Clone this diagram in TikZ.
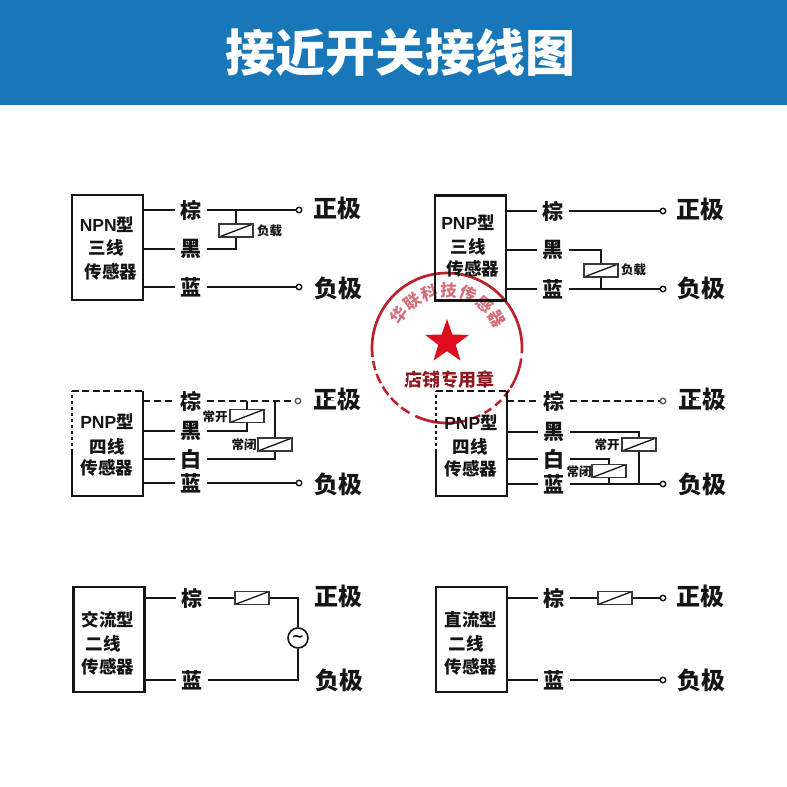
\documentclass[tikz,border=0pt]{standalone}
\usepackage{fontspec}
\setmainfont{Noto Sans CJK SC}
\newfontfamily\latinbf[Scale=1.0]{Liberation Sans}
\newfontfamily\symbolfont{DejaVu Sans}
\usetikzlibrary{shapes.geometric}
\definecolor{bandblue}{HTML}{1877B8}
\definecolor{ink}{HTML}{151515}
\definecolor{stampred}{HTML}{BE2029}
\definecolor{stamppink}{HTML}{D4707A}
\definecolor{starred}{HTML}{DE0F1C}
\tikzset{
  wire/.style={draw=ink,line width=1.5pt},
  dashwire/.style={draw=ink,line width=1.5pt,dash pattern=on 7pt off 4pt},
  sensorbox/.style={rectangle,draw=ink,line width=2.2pt,minimum width=71pt,minimum height=105pt,inner sep=0pt},
  openbox/.style={rectangle,minimum width=71pt,minimum height=104pt,inner sep=0pt},
  boxedge/.style={draw=ink,line width=2.2pt},
  boxedgedash/.style={draw=ink,line width=2pt,dash pattern=on 7pt off 3.5pt},
  boxtext/.style={font=\fontsize{17.5}{18}\selectfont\bfseries,text=ink,inner sep=0pt},
  wirelabel/.style={font=\fontsize{21}{22}\selectfont\bfseries,text=ink,inner sep=0pt,minimum width=32pt,minimum height=20pt},
  polelabel/.style={font=\fontsize{24}{25}\selectfont\bfseries,text=ink,inner sep=0pt},
  smalltext/.style={font=\fontsize{12.5}{13}\selectfont\bfseries,text=ink,inner sep=0pt},
  terminal/.style={circle,draw=ink,line width=1.4pt,fill=white,minimum size=5.5pt,inner sep=0pt},
  relaybox/.style={rectangle,draw=ink!85,line width=1.2pt,fill=white,minimum width=34pt,minimum height=13pt,inner sep=0pt,
    path picture={\draw[ink,line width=1.3pt] (path picture bounding box.south west) -- (path picture bounding box.north east);}},
  acsource/.style={circle,draw=ink,line width=1.6pt,fill=white,minimum size=20pt,inner sep=0pt,font=\fontsize{15}{15}\selectfont\bfseries\symbolfont},
  wipe/.style={draw=white,line width=1.6pt,dash pattern=on 4pt off 5pt},
}
\begin{document}
\begin{tikzpicture}[x=1pt,y=-1pt]
\useasboundingbox (0,0) rectangle (787,787);
\fill[white] (0,0) rectangle (787,787);
\fill[bandblue] (0,0) rectangle (787,104.5);
\node[font=\fontsize{50}{52}\selectfont\bfseries,text=white,inner sep=0pt] (title) at (400.5,52) {接近开关接线图};

% stamp
\begin{scope}[shift={(447,348)},y=1pt]
  \draw[stampred,line width=2.7pt] (187:75) arc (187:-4:75);
  \draw[stampred,line width=2.5pt] (-8:75) arc (-8:-32:75);
  \draw[stampred,line width=2.5pt,dash pattern=on 8pt off 5pt] (-34:75) arc (-34:-72:75);
  \draw[stampred,line width=2.7pt] (-76:75) arc (-76:-115:75);
  \draw[stampred,line width=2.5pt,dash pattern=on 10pt off 4pt] (-120:75) arc (-120:-170:75);
  \foreach \ang/\ch in {146/华,126.7/联,107.3/科,88/技,68.7/传,49.3/感,30/器}{
    \node[font=\fontsize{16.5}{17}\selectfont\bfseries,text=stamppink,rotate=\ang-90,inner sep=0pt] (arc\ch) at (\ang:58) {\ch};
  }
  \node[star,star points=5,star point ratio=2.5,fill=starred,inner sep=0pt,minimum size=46pt] (stamppoint) at (0,6) {};
\end{scope}
\node[font=\fontsize{18}{18}\selectfont\bfseries,text=stampred!75!black,inner sep=0pt] (stampname) at (449,380) {店铺专用章};
\draw[wipe] (403,377) -- (452,377);
\draw[wipe] (403,383) -- (452,383);

% panel 1
\node[sensorbox] (b1) at (107.5,247.5) {};
\node[boxtext] (b1a) at (107,225) {{\latinbf NPN}型};
\node[boxtext] (b1b) at (106,248) {三线};
\node[boxtext] (b1c) at (111,272) {传感器};
\node[wirelabel] (l1a) at (191,210) {棕};
\node[wirelabel] (l1b) at (191,249) {黑};
\node[wirelabel] (l1c) at (191,287) {蓝};
\node[terminal] (t1a) at (299,210) {};
\node[terminal] (t1c) at (299,287) {};
\node[polelabel] (p1a) at (337,208) {正极};
\node[polelabel] (p1c) at (338,288) {负极};
\node[relaybox] (r1) at (236,230.5) {};
\node[smalltext,anchor=west] (n1) at (257,231) {负载};
\coordinate (j1a) at (236,210);
\coordinate (j1b) at (236,249);
\draw[wire] (b1.east |- l1a) -- (l1a) -- (t1a);
\draw[wire] (b1.east |- l1b) -- (l1b) -- (j1b) -- (r1);
\draw[wire] (j1a) -- (r1);
\draw[wire] (b1.east |- l1c) -- (l1c) -- (t1c);

% panel 2
\node[sensorbox] (b2) at (470.5,248) {};
\node[boxtext] (b2a) at (468,223) {{\latinbf PNP}型};
\node[boxtext] (b2b) at (468,247) {三线};
\node[boxtext] (b2c) at (473,269) {传感器};
\node[wirelabel] (l2a) at (553,211) {棕};
\node[wirelabel] (l2b) at (553,250) {黑};
\node[wirelabel] (l2c) at (553,289) {蓝};
\node[terminal] (t2a) at (663,211) {};
\node[terminal] (t2c) at (663,289) {};
\node[polelabel] (p2a) at (700,209) {正极};
\node[polelabel] (p2c) at (701,288) {负极};
\node[relaybox] (r2) at (601,270.5) {};
\node[smalltext,anchor=west] (n2) at (621,270) {负载};
\coordinate (j2b) at (601,250);
\coordinate (j2c) at (601,289);
\draw[wire] (b2.east |- l2a) -- (l2a) -- (t2a);
\draw[wire] (b2.east |- l2b) -- (l2b) -- (j2b) -- (r2);
\draw[wire] (j2c) -- (r2);
\draw[wire] (b2.east |- l2c) -- (l2c) -- (t2c);

% panel 3
\node[openbox] (b3) at (107.5,443.5) {};
\draw[boxedgedash] (b3.north west) -- (b3.north east);
\draw[boxedge] (b3.north east) -- (b3.south east) -- (b3.south west) -- ([yshift=-8pt]b3.west);
\draw[boxedge,dash pattern=on 3pt off 3pt] ([yshift=-8pt]b3.west) -- ([yshift=0pt]b3.north west);
\node[boxtext] (b3a) at (107,422) {{\latinbf PNP}型};
\node[boxtext] (b3b) at (107,447) {四线};
\node[boxtext] (b3c) at (107,468) {传感器};
\node[wirelabel] (l3a) at (191,401) {棕};
\node[wirelabel] (l3b) at (191,431) {黑};
\node[wirelabel] (l3c) at (191,459) {白};
\node[wirelabel] (l3d) at (191,483) {蓝};
\node[terminal,draw=ink!70] (t3a) at (298,401) {};
\node[terminal] (t3d) at (299,483) {};
\node[polelabel] (p3a) at (337,399) {正极};
\node[polelabel] (p3d) at (338,484) {负极};
\node[relaybox] (r3a) at (247,416) {};
\node[relaybox] (r3b) at (275,444.5) {};
\node[smalltext] (n3a) at (215,417) {常开};
\node[smalltext] (n3b) at (244,445) {常闭};
\coordinate (j3a) at (247,401);
\coordinate (j3b) at (275,401);
\coordinate (j3c) at (247,431);
\coordinate (j3d) at (275,459);
\draw[dashwire] (b3.east |- l3a) -- (l3a) -- (t3a);
\draw[wire] (j3a) -- (r3a);
\draw[wire] (j3b) -- (r3b);
\draw[wire] (b3.east |- l3b) -- (l3b) -- (j3c) -- (r3a);
\draw[wire] (b3.east |- l3c) -- (l3c) -- (j3d) -- (r3b);
\draw[wire] (b3.east |- l3d) -- (l3d) -- (t3d);

% panel 4
\node[openbox] (b4) at (471.5,443.5) {};
\draw[boxedgedash] (b4.north west) -- (b4.north east);
\draw[boxedge] (b4.north east) -- (b4.south east) -- (b4.south west) -- ([yshift=-8pt]b4.west);
\draw[boxedge,dash pattern=on 3pt off 3pt] ([yshift=-8pt]b4.west) -- (b4.north west);
\node[boxtext] (b4a) at (471,423) {{\latinbf PNP}型};
\node[boxtext] (b4b) at (470,447) {四线};
\node[boxtext] (b4c) at (471,469) {传感器};
\node[wirelabel] (l4a) at (554,401) {棕};
\node[wirelabel] (l4b) at (554,432) {黑};
\node[wirelabel] (l4c) at (554,459) {白};
\node[wirelabel] (l4d) at (554,484) {蓝};
\node[terminal,draw=ink!70] (t4a) at (663,401) {};
\node[terminal] (t4d) at (663,484) {};
\node[polelabel] (p4a) at (702,399) {正极};
\node[polelabel] (p4d) at (702,484) {负极};
\node[relaybox] (r4a) at (639,444.5) {};
\node[relaybox] (r4b) at (609,471) {};
\node[smalltext] (n4a) at (607,445) {常开};
\node[smalltext] (n4b) at (579,472) {常闭};
\coordinate (j4a) at (639,432);
\coordinate (j4b) at (639,484);
\coordinate (j4c) at (609,459);
\coordinate (j4d) at (609,484);
\draw[dashwire] (b4.east |- l4a) -- (l4a) -- (t4a);
\draw[wire] (b4.east |- l4b) -- (l4b) -- (j4a) -- (r4a);
\draw[wire] (j4b) -- (r4a);
\draw[wire] (b4.east |- l4c) -- (l4c) -- (j4c) -- (r4b);
\draw[wire] (j4d) -- (r4b);
\draw[wire] (b4.east |- l4d) -- (l4d) -- (t4d);

% panel 5
\node[sensorbox] (b5) at (109,639.5) {};
\node[boxtext] (b5a) at (108,620) {交流型};
\node[boxtext] (b5b) at (103,644) {二线};
\node[boxtext] (b5c) at (108,667) {传感器};
\node[wirelabel] (l5a) at (192,598) {棕};
\node[wirelabel] (l5c) at (192,680) {蓝};
\node[relaybox] (r5) at (252,598) {};
\node[acsource] (s5) at (298,638) {\symbolfont ∼};
\coordinate (c5a) at (298,598);
\coordinate (c5c) at (298,680);
\node[polelabel] (p5a) at (338,596) {正极};
\node[polelabel] (p5c) at (339,680) {负极};
\draw[wire] (b5.east |- l5a) -- (l5a) -- (r5) -- (c5a) -- (s5);
\draw[wire] (b5.east |- l5c) -- (l5c) -- (c5c) -- (s5);

% panel 6
\node[sensorbox] (b6) at (471.5,639.5) {};
\node[boxtext] (b6a) at (471,620) {直流型};
\node[boxtext] (b6b) at (466,644) {二线};
\node[boxtext] (b6c) at (471,667) {传感器};
\node[wirelabel] (l6a) at (554,598) {棕};
\node[wirelabel] (l6c) at (554,680) {蓝};
\node[relaybox] (r6) at (615,598) {};
\node[terminal] (t6a) at (663,598) {};
\node[terminal] (t6c) at (663,680) {};
\node[polelabel] (p6a) at (700,596) {正极};
\node[polelabel] (p6c) at (701,680) {负极};
\draw[wire] (b6.east |- l6a) -- (l6a) -- (r6) -- (t6a);
\draw[wire] (b6.east |- l6c) -- (l6c) -- (t6c);

% the white watermark that cuts through the third row
\draw[wipe] (l3a.west) -- (l3a.east);
\draw[wipe] (p3a.west) -- (p3a.east);
\draw[wipe] (l4a.west) -- (l4a.east);
\draw[wipe] (p4a.west) -- (p4a.east);
\end{tikzpicture}
\end{document}
